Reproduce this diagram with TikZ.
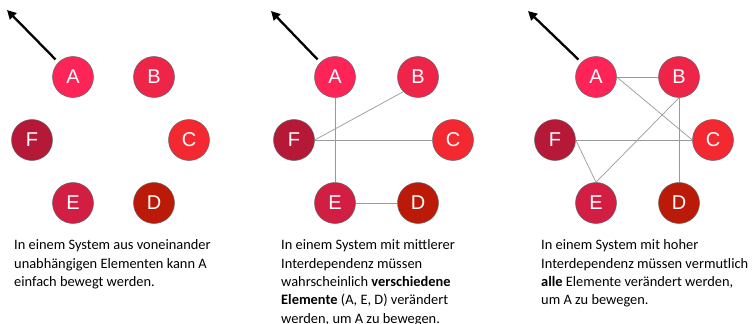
\documentclass[tikz,border=0pt]{standalone}
\usepackage{fontspec}
\setmainfont{Carlito}
\newfontfamily\nodefont{Liberation Sans}
\usetikzlibrary{arrows.meta}
\definecolor{cA}{HTML}{FF2458}
\definecolor{cB}{HTML}{EE2448}
\definecolor{cC}{HTML}{F42830}
\definecolor{cD}{HTML}{BC1A08}
\definecolor{cE}{HTML}{D21E42}
\definecolor{cF}{HTML}{B61838}
\begin{document}
\begin{tikzpicture}[x=1pt,y=-1pt,
  elem/.style={circle,minimum size=41pt,inner sep=0pt,draw=black!60,line width=0.5pt,
    text=white,font=\nodefont\fontsize{20}{22}\selectfont},
  link/.style={draw=black!40,line width=0.7pt},
  push/.style={-{Triangle[length=9pt,width=9pt]},line width=2.3pt,black,shorten <=4pt},
  caption/.style={align=left,inner sep=0pt,anchor=north west,font=\fontsize{14.4}{18.4}\selectfont}]
\useasboundingbox (0,0) rectangle (753,324);
% panel 1
\node[elem,fill=cA] (A1) at (73,77) {A};
\node[elem,fill=cB] (B1) at (154,77) {B};
\node[elem,fill=cC] (C1) at (189,140) {C};
\node[elem,fill=cD] (D1) at (154,203) {D};
\node[elem,fill=cE] (E1) at (73,203) {E};
\node[elem,fill=cF] (F1) at (32,140) {F};
\coordinate (P1) at (7,10);
\draw[push] (A1.north west) -- (P1);
\node[caption] (T1) at (14,239.5) {In einem System aus voneinander\\unabhängigen Elementen kann A\\einfach bewegt werden.};
% panel 2
\node[elem,fill=cA] (A2) at (335,77) {A};
\node[elem,fill=cB] (B2) at (418,77) {B};
\node[elem,fill=cC] (C2) at (453,140) {C};
\node[elem,fill=cD] (D2) at (418,203) {D};
\node[elem,fill=cE] (E2) at (335,203) {E};
\node[elem,fill=cF] (F2) at (294,140) {F};
\coordinate (P2) at (271,11);
\draw[push] (A2.north west) -- (P2);
\node[caption] (T2) at (281,239.5) {In einem System mit mittlerer\\Interdependenz müssen\\wahrscheinlich \textbf{verschiedene}\\\textbf{Elemente} (A, E, D) verändert\\werden, um A zu bewegen.};
% panel 3
\node[elem,fill=cA] (A3) at (596,77) {A};
\node[elem,fill=cB] (B3) at (679,77) {B};
\node[elem,fill=cC] (C3) at (713,140) {C};
\node[elem,fill=cD] (D3) at (679,203) {D};
\node[elem,fill=cE] (E3) at (596,203) {E};
\node[elem,fill=cF] (F3) at (555,140) {F};
\coordinate (P3) at (528,11);
\draw[push] (A3.north west) -- (P3);
\node[caption] (T3) at (541,239.5) {In einem System mit hoher\\Interdependenz müssen vermutlich\\\textbf{alle} Elemente verändert werden,\\um A zu bewegen.};
% links
\draw[link] (A2.south) -- (E2.north);
\draw[link] (F2.east) -- (B2.south west);
\draw[link] (F2.east) -- (C2.west);
\draw[link] (E2.east) -- (D2.west);
\draw[link] (A3.east) -- (B3.west);
\draw[link] (A3.east) -- (C3.west);
\draw[link] (B3.south) -- (E3.north);
\draw[link] (B3.south) -- (D3.north);
\draw[link] (F3.east) -- (C3.west);
\draw[link] (F3.east) -- (E3.north);
\end{tikzpicture}
\end{document}
